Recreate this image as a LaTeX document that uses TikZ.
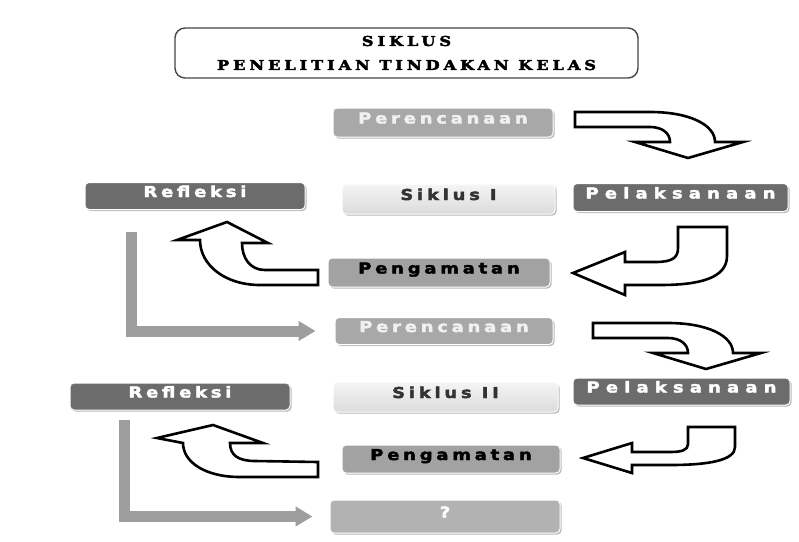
\documentclass[tikz,border=0pt]{standalone}
\usepackage{fontspec}
\usetikzlibrary{arrows.meta,shadows}
\newfontfamily\boxfont[LetterSpace=25,FakeStretch=1.2,FakeBold=2.5]{DejaVu Sans}
\newfontfamily\boxfontwide[LetterSpace=41,FakeStretch=1.2,FakeBold=2.5]{DejaVu Sans}
\newfontfamily\titlefont[LetterSpace=29,FakeStretch=1.2,FakeBold=3]{DejaVu Serif}
\definecolor{cmid}{HTML}{A8A8A8}
\definecolor{cdark}{HTML}{6C6C6C}
\definecolor{cpeng}{HTML}{A2A2A2}
\definecolor{cline}{HTML}{9E9E9E}
\definecolor{cq}{HTML}{B2B2B2}
\begin{document}
\begin{tikzpicture}[x=1pt,y=-1pt,
  bx/.style={rounded corners=4pt, draw=white, line width=1pt, inner sep=0pt,
    text height=8pt, text depth=6pt,
    font=\boxfont\bfseries\fontsize{15}{16}\selectfont,
    drop shadow={shadow xshift=1.5pt,shadow yshift=-1.5pt,fill=gray!55,opacity=1}},
  perbox/.style={bx, fill=cmid, text=gray!12},
  sikbox/.style={bx, top color=gray!8, bottom color=gray!28, text=black!80},
  darkbox/.style={bx, fill=cdark, text=white},
  pengbox/.style={bx, fill=cpeng, text=black},
  qbox/.style={bx, fill=cq, text=white},
  harrow/.style={draw=black, line width=2.6pt, fill=white, line join=miter},
  gl/.style={draw=cline, line width=11pt, -{Triangle[length=17pt,width=19pt]}},
  titlebox/.style={draw=gray!55!black, line width=1.4pt, rounded corners=10pt, fill=white,
    minimum width=463pt, minimum height=50pt, align=center, inner sep=0pt,
    font=\titlefont\bfseries\fontsize{13.5}{24}\selectfont}
]
\useasboundingbox (0,0) rectangle (799,541);
\fill[white] (0,0) rectangle (799,541);

% title
\node[titlebox] (title) at (406.5,53) {SIKLUS\\PENELITIAN TINDAKAN KELAS};

% boxes
\node[perbox, minimum width=220pt, minimum height=29pt] (per1) at (443,122.5) {Perencanaan};
\node[sikbox, minimum width=213pt, minimum height=30pt] (sik1) at (448.5,199) {Siklus I};
\node[darkbox, minimum width=215pt, minimum height=28pt, font=\boxfontwide\bfseries\fontsize{15}{16}\selectfont] (pel1) at (680.5,197.5) {Pelaksanaan};
\node[darkbox, minimum width=220pt, minimum height=27pt] (refl1) at (195,196) {Refleksi};
\node[pengbox, minimum width=222pt, minimum height=29pt] (peng1) at (439,272.5) {Pengamatan};
\node[perbox, minimum width=218pt, minimum height=27pt] (per2) at (444,331) {Perencanaan};
\node[sikbox, minimum width=225pt, minimum height=30pt] (sik2) at (445.5,397) {Siklus II};
\node[darkbox, minimum width=217pt, minimum height=27pt, font=\boxfontwide\bfseries\fontsize{15}{16}\selectfont] (pel2) at (681.5,391.5) {Pelaksanaan};
\node[darkbox, minimum width=220pt, minimum height=27pt] (refl2) at (180,396.5) {Refleksi};
\node[pengbox, minimum width=218pt, minimum height=28pt] (peng2) at (451,459) {Pengamatan};
\node[qbox, minimum width=230pt, minimum height=33pt] (q) at (445,516.5) {?};

% gray L connectors
\coordinate (l1) at (131,232);
\draw[gl] (l1) |- ([xshift=-19pt]per2.west);
\coordinate (l2) at (124,420);
\draw[gl] (l2) |- ([xshift=-17pt]q.west);

% hollow arrow 1 (Perencanaan -> Pelaksanaan)
\path[harrow] (575,112) -- (650,112) .. controls (690,112) and (715,125) .. (715,142)
  -- (743,142) -- (688,158) -- (635,142) -- (670,142)
  .. controls (670,133) and (662,127) .. (650,127) -- (575,127) -- cycle;
% hollow arrow 4
\path[harrow, shift={(18,211)}] (575,112) -- (650,112) .. controls (690,112) and (715,125) .. (715,142)
  -- (743,142) -- (688,158) -- (635,142) -- (670,142)
  .. controls (670,133) and (662,127) .. (650,127) -- (575,127) -- cycle;

% hollow arrow 2 (Pelaksanaan -> Pengamatan)
\path[harrow] (678,227) -- (727,227) -- (727,256)
  .. controls (727,278) and (700,285) .. (660,285) -- (625,285) -- (625,295)
  -- (573,273) -- (625,252) -- (625,262) -- (655,262)
  .. controls (672,262) and (678,258) .. (678,248) -- cycle;
% hollow arrow 6
\path[harrow] (688,427) -- (735,427) -- (735,447)
  .. controls (735,460) and (710,465) .. (670,465) -- (632,465) -- (632,473)
  -- (583,458) -- (632,443) -- (632,452) -- (670,452)
  .. controls (682,452) and (688,450) .. (688,444) -- cycle;

% hollow arrow 3 (Pengamatan -> Refleksi)
\path[harrow] (227,222) -- (268,243) -- (242,243)
  .. controls (242,258) and (250,270) .. (265,270) -- (318,270) -- (318,285) -- (260,285)
  .. controls (225,285) and (200,265) .. (200,240) -- (177,240) -- cycle;
% hollow arrow 5
\path[harrow] (213,425) -- (263,443) -- (230,443)
  .. controls (230,455) and (238,461) .. (255,461) -- (318,462) -- (318,477) -- (240,477)
  .. controls (205,477) and (183,462) .. (183,443) -- (157,438) -- cycle;
\end{tikzpicture}
\end{document}
